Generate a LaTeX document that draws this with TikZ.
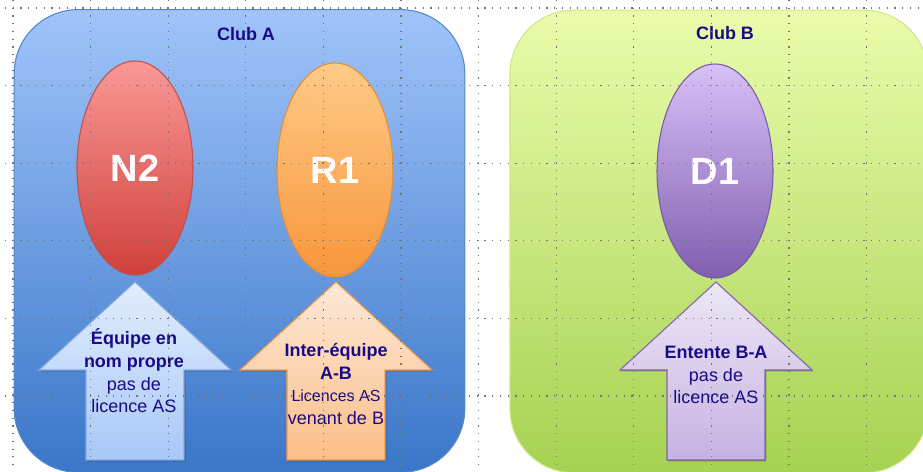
\documentclass[tikz,border=0pt]{standalone}
\usepackage{fontspec}
\setmainfont{Liberation Sans}
\usepackage{xcolor}
\usetikzlibrary{shapes,positioning,shadows}

\definecolor{navytext}{RGB}{25,10,135}
\definecolor{clubAtop}{RGB}{160,196,250}
\definecolor{clubAbot}{RGB}{58,118,200}
\definecolor{clubAline}{RGB}{85,135,205}
\definecolor{clubBtop}{RGB}{234,252,172}
\definecolor{clubBbot}{RGB}{166,210,82}
\definecolor{clubBline}{RGB}{205,232,130}
\definecolor{ntwotop}{RGB}{250,152,150}
\definecolor{ntwobot}{RGB}{208,64,60}
\definecolor{ntwoline}{RGB}{190,80,77}
\definecolor{ronetop}{RGB}{255,202,135}
\definecolor{ronebot}{RGB}{247,150,60}
\definecolor{roneline}{RGB}{230,140,50}
\definecolor{donetop}{RGB}{216,192,248}
\definecolor{donebot}{RGB}{128,95,175}
\definecolor{doneline}{RGB}{120,90,165}
\definecolor{eqtop}{RGB}{226,237,253}
\definecolor{eqbot}{RGB}{168,200,248}
\definecolor{eqline}{RGB}{130,170,230}
\definecolor{ietop}{RGB}{253,233,216}
\definecolor{iebot}{RGB}{252,190,135}
\definecolor{ieline}{RGB}{245,155,70}
\definecolor{enttop}{RGB}{238,231,246}
\definecolor{entbot}{RGB}{198,178,226}
\definecolor{entline}{RGB}{130,100,175}

\begin{document}
\begin{tikzpicture}[x=0.75pt, y=-0.75pt,
    club/.style={rectangle, rounded corners=48pt, minimum height=347pt, inner sep=0pt, line width=0.8pt},
    clubtitle/.style={font=\fontsize{13.5}{16}\selectfont\bfseries, text=navytext},
    team/.style={ellipse, minimum width=87pt, minimum height=160.5pt, inner sep=0pt, line width=0.8pt,
        font=\fontsize{28.5}{34}\selectfont\bfseries, text=white},
    blockarrow/.style={line width=0.8pt, drop shadow={shadow xshift=1pt, shadow yshift=-1pt, opacity=0.3, fill=black}},
    arrowtext/.style={align=center, text=navytext, font=\fontsize{13.5}{17}\selectfont},
    dotgrid/.style={black!55, line width=0.9pt, dash pattern=on 0.9pt off 4.9pt}
]
\useasboundingbox (0,0) rectangle (923,471);
\clip (0,0) rectangle (923,471);

% Clubs
\node[club, minimum width=338pt, top color=clubAtop, bottom color=clubAbot, draw=clubAline] (cluba) at (239.5,241) {};
\node[club, minimum width=313.5pt, top color=clubBtop, bottom color=clubBbot, draw=clubBline] (clubb) at (719,241.5) {};
\node[clubtitle] (titlea) at (246,34) {Club A};
\node[clubtitle] (titleb) at (725,33) {Club B};

% Teams
\node[team, top color=ntwotop, bottom color=ntwobot, draw=ntwoline] (ntwo) at (135,168) {N2};
\node[team, top color=ronetop, bottom color=ronebot, draw=roneline] (rone) at (335,170) {R1};
\node[team, top color=donetop, bottom color=donebot, draw=doneline] (done) at (715,171) {D1};

% Block arrows
\foreach \ax/\acol in {135/eq, 336/ie, 716/ent}
    \filldraw[blockarrow, top color=\acol top, bottom color=\acol bot, draw=\acol line]
        (\ax,282) -- ++(96,88) -- ++(-47,0) -- ++(0,90) -- ++(-98,0) -- ++(0,-90) -- ++(-47,0) -- cycle;

\node[arrowtext] (eqtext) at (134,371) {\textbf{Équipe en}\\\textbf{nom propre}\\pas de\\licence AS};
\node[arrowtext] (ietext) at (336,384) {\textbf{Inter-équipe}\\\textbf{A-B}\\\fontsize{12}{14.5}\selectfont Licences AS\\venant de B};
\node[arrowtext] (enttext) at (716,375) {\textbf{Entente B-A}\\pas de\\licence AS};

% Dotted grid
\foreach \k in {0,...,11}
    \draw[dotgrid] (13+77.6*\k,0) -- (13+77.6*\k,471);
\foreach \j in {0,...,5}
    \draw[dotgrid] (5,8+77.6*\j) -- (923,8+77.6*\j);

\end{tikzpicture}
\end{document}
